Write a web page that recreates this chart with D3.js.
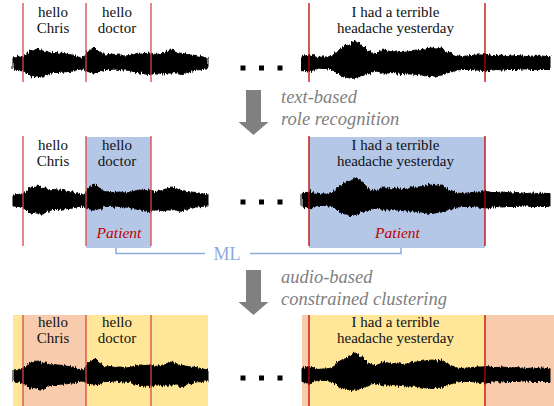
<!DOCTYPE html>
<html>
<head>
<meta charset="utf-8">
<script src="https://cdn.jsdelivr.net/npm/d3@7"></script>
<style>
body { margin: 0; background: #fff; }
svg { display: block; }
</style>
</head>
<body>
<svg width="554" height="406"></svg>
<script>
// waveform envelopes (time in clip units, amplitude up / down)
var leftTime  = [0, 0.5, 1.0, 1.4, 1.7, 2.0, 2.4, 2.7, 3.0, 3.3, 3.7, 4.0, 4.5, 5.0, 5.5, 6.0, 6.5, 6.9, 7.2, 7.5, 7.9, 8.2, 8.5, 8.8, 9.2, 9.7, 10.2, 10.7, 11.2, 11.7, 12.2, 12.7, 13.2, 13.7, 14.2, 14.6, 15.0, 15.4, 15.8, 16.2, 16.6, 17.0, 17.4, 17.8, 18.3, 18.8, 19.2, 19.5];
var leftUpper = [5, 5.5, 6.5, 9, 13, 12, 14, 13, 11.5, 12, 10, 10.5, 10, 9.5, 8.5, 8, 6, 5, 7, 12, 15, 16, 13, 10.5, 8, 8.5, 7.5, 8, 7, 7.5, 9, 10, 9.5, 10, 8.5, 9, 10, 11.5, 13, 12, 10, 9.5, 8.5, 8, 7.5, 6.5, 5.5, 5];
var leftLower = [6, 6.5, 8, 10, 13, 12.5, 13, 14, 14, 12, 10.5, 9.5, 9.5, 9, 8.5, 8, 6.5, 6, 7, 8.5, 10, 10, 9, 8, 6.5, 6.5, 6, 6.5, 7, 7.5, 9, 10, 11, 11.5, 10, 10, 11, 10, 10, 9.5, 11, 11.5, 9, 8.5, 7, 6.5, 6, 6];

var rightTime  = [0, 0.4, 0.8, 1.2, 1.6, 2.0, 2.5, 2.9, 3.3, 3.6, 4.0, 4.3, 4.6, 4.9, 5.2, 5.5, 5.8, 6.2, 6.6, 7.0, 7.4, 7.8, 8.2, 8.6, 9.0, 9.5, 10.0, 10.5, 11.0, 11.5, 12.0, 12.5, 13.0, 13.5, 14.0, 14.5, 15.0, 15.5, 16.0, 16.5, 17.0, 17.5, 18.0, 18.5, 19.0, 19.5, 20.0, 20.5, 21.0, 21.5, 22.0, 22.5, 23.0, 23.5, 24.0, 24.5, 24.8];
var rightUpper = [6.5, 7.5, 8.5, 7, 5.5, 6, 6, 7, 9, 13, 15, 17, 18, 20, 22, 21, 19, 16, 12, 10, 9.5, 11, 13, 12, 11, 12, 10.5, 11, 12.5, 13, 13.5, 14.5, 15, 14, 15, 11, 9, 7, 6.5, 7, 7.5, 8, 8, 8.5, 7.5, 7.5, 8, 7.5, 7, 7.5, 7, 6.5, 7, 6.5, 7, 6.5, 6.5];
var rightLower = [6.5, 7.5, 8.5, 6.5, 5, 5.5, 5.5, 6.5, 8, 11, 13, 14, 14.5, 15.5, 15, 14, 13.5, 12, 11, 9, 8, 9, 10, 10, 9.5, 10, 10.5, 11, 11, 11.5, 12, 13, 13.5, 12.5, 12, 10, 8.5, 7, 6.5, 6.5, 6.5, 7, 7.5, 8, 7, 6.5, 7, 6.5, 6.5, 6.5, 6, 6, 6.5, 6.5, 6.5, 6.5, 6.5];

// speaker turn boundaries
var leftTurns  = [1.0, 7.3, 13.8];
var rightTurns = [0.7, 18.3];

// utterances
var uttClip  = ["left", "left", "right"];
var uttStart = [1.0, 7.3, 0.7];
var uttEnd   = [7.3, 13.8, 18.3];
var uttLines = [["hello", "Chris"], ["hello", "doctor"], ["I had a terrible", "headache yesterday"]];
var uttRole  = [null, "Patient", "Patient"];

// clustering result spans
var spanClip    = ["left", "left", "left", "right", "right", "right"];
var spanStart   = [0, 1.0, 7.3, 0, 0.7, 18.3];
var spanEnd     = [1.0, 7.3, 19.5, 0.7, 18.3, 25.2];
var spanCluster = ["A", "B", "A", "B", "A", "B"];

var stepLabels = [["text-based", "role recognition"], ["audio-based", "constrained clustering"]];

var serif = "Liberation Serif";
var svg = d3.select("svg");

// rough edges for the waveform
var f = svg.append("defs").append("filter").attr("id", "rough")
	.attr("x", "-5%").attr("y", "-40%").attr("width", "110%").attr("height", "180%");
f.append("feTurbulence").attr("type", "fractalNoise")
	.attr("baseFrequency", "0.7 0.03").attr("numOctaves", 2).attr("seed", 3);
f.append("feDisplacementMap").attr("in", "SourceGraphic")
	.attr("scale", 5).attr("xChannelSelector", "B").attr("yChannelSelector", "R");

var xs = {
	left: d3.scaleLinear().domain([0, 19.5]).range([13, 208]),
	right: d3.scaleLinear().domain([0, 24.8]).range([302, 550])
};
var clusterColor = d3.scaleOrdinal().domain(["A", "B"]).range(["#ffe699", "#f8cbad"]);
var turnColor = { left: "#d94848", right: "#c00000" };

var rows = [
	{ center: 63, lineTop: 3, lineBottom: 82, text: 17, dots: 68 },
	{ center: 200, lineTop: 136, lineBottom: 246, text: 150, dots: 202 },
	{ center: 375, lineTop: 315, lineBottom: 406, text: 327, dots: 378 }
];

var envs = {
	left: leftTime.map(function(t, i) { return { t: t, up: leftUpper[i], lo: leftLower[i] }; }),
	right: rightTime.map(function(t, i) { return { t: t, up: rightUpper[i], lo: rightLower[i] }; })
};
var turns = { left: leftTurns, right: rightTurns };

function drawRow(r, k) {
	var g = svg.append("g");
	var y = d3.scaleLinear().domain([-25, 25]).range([r.center + 25, r.center - 25]);

	// backgrounds
	if (k == 1) {
		uttRole.forEach(function(role, i) {
			if (!role) return;
			var x = xs[uttClip[i]];
			g.append("rect")
				.attr("x", x(uttStart[i])).attr("y", r.lineTop + 1)
				.attr("width", x(uttEnd[i]) - x(uttStart[i]))
				.attr("height", r.lineBottom - r.lineTop + 1)
				.attr("fill", "#b4c7e7");
		});
	}
	if (k == 2) {
		spanCluster.forEach(function(c, i) {
			var x = xs[spanClip[i]];
			g.append("rect")
				.attr("x", x(spanStart[i])).attr("y", r.lineTop)
				.attr("width", x(spanEnd[i]) - x(spanStart[i]))
				.attr("height", 406 - r.lineTop)
				.attr("fill", clusterColor(c));
		});
	}

	// waveforms
	["left", "right"].forEach(function(clip) {
		var x = xs[clip];
		var area = d3.area()
			.x(function(d) { return x(d.t); })
			.y0(function(d) { return y(-d.lo); })
			.y1(function(d) { return y(d.up); });
		g.append("path")
			.attr("d", area(envs[clip]))
			.attr("fill", "#000")
			.attr("stroke", "#000")
			.attr("stroke-width", 1)
			.attr("filter", "url(#rough)");
	});

	// turn lines
	["left", "right"].forEach(function(clip) {
		g.selectAll(null).data(turns[clip]).enter().append("line")
			.attr("x1", function(d) { return xs[clip](d); })
			.attr("x2", function(d) { return xs[clip](d); })
			.attr("y1", r.lineTop).attr("y2", r.lineBottom)
			.attr("stroke", turnColor[clip])
			.attr("stroke-width", 1.3);
	});

	// utterance text
	uttLines.forEach(function(lines, i) {
		var x = xs[uttClip[i]];
		var cx = (x(uttStart[i]) + x(uttEnd[i])) / 2 - 1.5;
		lines.forEach(function(s, j) {
			g.append("text")
				.attr("x", cx).attr("y", r.text + j * 15.5)
				.attr("text-anchor", "middle")
				.attr("font-family", serif)
				.attr("font-size", 15)
				.attr("fill", "#111")
				.text(s);
		});
		if (k == 1 && uttRole[i]) {
			g.append("text")
				.attr("x", cx + 2).attr("y", 238)
				.attr("text-anchor", "middle")
				.attr("font-family", serif)
				.attr("font-size", 15.5)
				.attr("font-style", "italic")
				.attr("fill", "#c00000")
				.text(uttRole[i]);
		}
	});

	// ellipsis
	g.selectAll(null).data(d3.range(3)).enter().append("rect")
		.attr("x", function(d) { return 240.5 + d * 18.5; })
		.attr("y", r.dots - 2.5)
		.attr("width", 5).attr("height", 5)
		.attr("fill", "#000");
}

rows.forEach(drawRow);

// arrows and step labels
[90, 270].forEach(function(top, i) {
	var cx = 253.5;
	svg.append("path")
		.attr("d", "M" + (cx - 7.5) + "," + top + "H" + (cx + 7.5) + "V" + (top + 32) +
			"H" + (cx + 15) + "L" + cx + "," + (top + 45) + "L" + (cx - 15) + "," + (top + 32) +
			"H" + (cx - 7.5) + "Z")
		.attr("fill", "#808080");
	stepLabels[i].forEach(function(s, j) {
		svg.append("text")
			.attr("x", 281).attr("y", top + 13 + j * 22)
			.attr("font-family", serif)
			.attr("font-size", 18.5)
			.attr("font-style", "italic")
			.attr("fill", "#7f7f7f")
			.text(s);
	});
});

// must-link bracket
var ml = "#8faadc";
svg.append("path")
	.attr("d", "M116,248V253.5H205M250,253.5H401V248")
	.attr("fill", "none")
	.attr("stroke", ml)
	.attr("stroke-width", 1.5);
svg.append("text")
	.attr("x", 227).attr("y", 259.5)
	.attr("text-anchor", "middle")
	.attr("font-family", serif)
	.attr("font-size", 18)
	.attr("fill", ml)
	.text("ML");
</script>
</body>
</html>
